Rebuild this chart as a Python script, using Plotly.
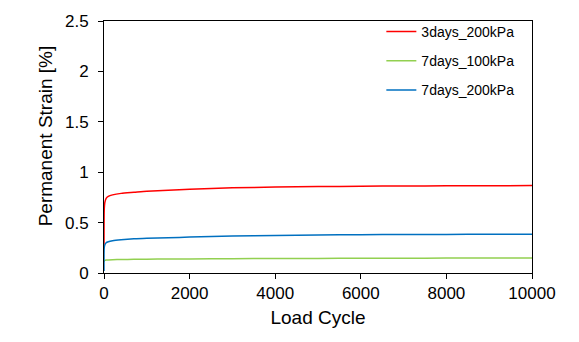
import plotly.graph_objects as go

cycles = [0, 5, 20, 50, 100, 200, 400, 700, 1000, 1500, 2000, 3000, 4000, 5000, 6000, 7000, 8000, 9000, 10000]
red_3d_200 = [0.28, 0.62, 0.70, 0.74, 0.76, 0.775, 0.79, 0.80, 0.81, 0.82, 0.83, 0.845, 0.852, 0.857, 0.861, 0.863, 0.865, 0.866, 0.867]
green_7d_100 = [0.11, 0.12, 0.125, 0.128, 0.13, 0.132, 0.134, 0.136, 0.137, 0.139, 0.14, 0.142, 0.144, 0.145, 0.146, 0.147, 0.148, 0.148, 0.149]
blue_7d_200 = [0.02, 0.25, 0.28, 0.30, 0.31, 0.32, 0.33, 0.34, 0.345, 0.35, 0.356, 0.367, 0.373, 0.377, 0.38, 0.382, 0.383, 0.384, 0.385]

x_ticks = [0, 2000, 4000, 6000, 8000, 10000]
x_ticktext = ["0", "2000", "4000", "6000", "8000", "10000"]
y_ticks = [0, 0.5, 1, 1.5, 2, 2.5]
y_ticktext = ["0", "0.5", "1", "1.5", "2", "2.5"]

names = ["3days_200kPa", "7days_100kPa", "7days_200kPa"]
colors = ["#FF0000", "#92D050", "#0070C0"]

FONT = "Liberation Sans, Arial"

fig = go.Figure()
for i, (nm, ys, c) in enumerate(zip(names, [red_3d_200, green_7d_100, blue_7d_200], colors)):
    fig.add_trace(go.Scatter(x=cycles, y=ys, mode="lines", name=nm,
                             line=dict(color=c, width=1.5, shape="spline", smoothing=0.6),
                             legendgroup=str(i)))

axis_common = dict(showline=True, linecolor="black", linewidth=1, mirror=True,
                   ticks="outside", ticklen=5, tickcolor="black", showgrid=False,
                   zeroline=False, tickfont=dict(family=FONT, size=17, color="black"))

fig.update_layout(
    width=579, height=342,
    margin=dict(l=104, r=47, t=13, b=69),
    paper_bgcolor="white", plot_bgcolor="white",
    font=dict(family=FONT, color="black"),
    xaxis=dict(range=[0, 10000], tickvals=x_ticks, ticktext=x_ticktext,
               title=dict(text="Load Cycle", font=dict(size=19), standoff=8), **axis_common),
    yaxis=dict(range=[0, 2.5], tickvals=y_ticks, ticktext=y_ticktext,
               ticklabelstandoff=6, **axis_common),
    legend=dict(x=0.648, y=1.02, xanchor="left", yanchor="top", bgcolor="rgba(0,0,0,0)",
                font=dict(size=14, color="black"), tracegroupgap=8),
    showlegend=True,
    annotations=[dict(text="Permanent Strain [%]", textangle=-90, showarrow=False,
                      xref="paper", yref="paper", x=-0.138, y=0.546,
                      xanchor="center", yanchor="middle",
                      font=dict(family=FONT, size=19, color="black"))],
)

fig.write_html("out.html")
